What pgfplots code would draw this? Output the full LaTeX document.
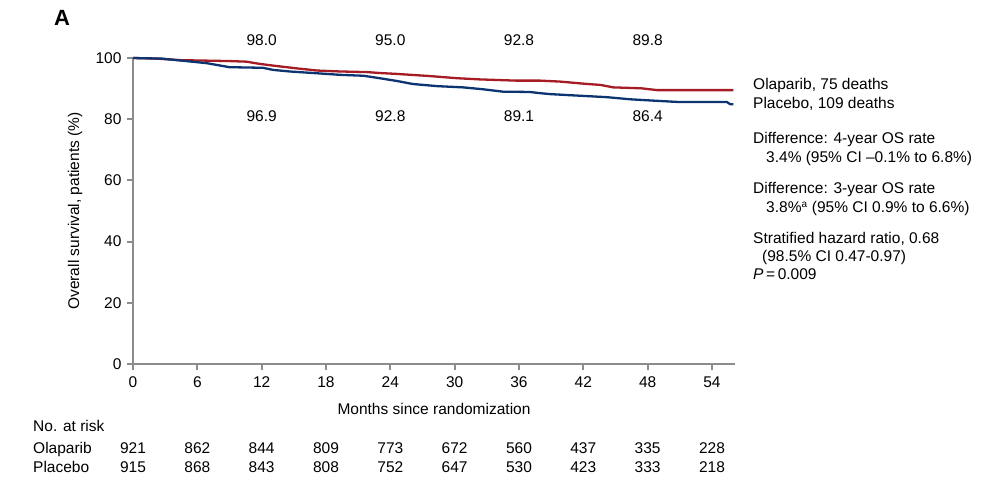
\documentclass[border=0pt]{standalone}
\usepackage{fontspec}
\setmainfont{Liberation Sans}
\usepackage{pgfplots}
\pgfplotsset{compat=1.18}
\definecolor{olared}{RGB}{166,28,36}
\definecolor{plablue}{RGB}{12,52,112}
\definecolor{axgray}{RGB}{140,140,140}
\newcommand{\fs}{\fontsize{15.5}{18}\selectfont}
\begin{document}
\begin{tikzpicture}[font=\fs]
\useasboundingbox (-133pt,-135pt) rectangle (870pt,364pt);
\begin{axis}[
  scale only axis, width=602pt, height=306pt,
  xmin=0, xmax=56.15, ymin=0, ymax=100,
  axis x line=bottom, axis y line=left,
  axis line style={draw=axgray, line width=2.2pt, -},
  xtick={0,6,...,54}, ytick={0,20,...,100},
  tick align=outside, major tick length=6pt,
  every tick/.style={draw=axgray, line width=2pt},
  xtick pos=bottom, ytick pos=left,
  /pgf/number format/assume math mode=true,
  ticklabel style={font=\fs},
  xticklabel style={yshift=-3pt},
  yticklabel style={xshift=-2pt},
  xlabel={Months since randomization},
  ylabel={Overall survival, patients (\%)},
  xlabel style={at={(axis description cs:0.5,0)}, anchor=base, yshift=-50.6pt},
  ylabel style={at={(axis description cs:0,0.5)}, anchor=center, rotate=0, yshift=58pt},
  clip=false,
]
\addplot[olared, line width=2.3pt] coordinates {
(0,100) (1,99.9) (2.2,99.8) (4.4,99.3) (9.0,99.0) (10.6,98.8) (11.6,98.2)
(12.0,98.0) (13.1,97.5) (15.3,96.6) (17.2,95.9) (19.3,95.6) (21.8,95.4)
(23.0,95.1) (24.6,94.8) (27.7,94.1) (30.2,93.4) (32.4,93.0) (35.8,92.6)
(38.0,92.6) (39.8,92.3) (42.4,91.5) (43.6,91.2) (44.8,90.4) (47.4,90.1)
(48.9,89.5) (56.0,89.5)
};
\addplot[plablue, line width=2.3pt] coordinates {
(0,100) (2.7,99.8) (6.9,98.3) (9.0,97.0) (12.1,96.8) (13.1,96.1) (14.6,95.6)
(17.2,95.0) (19.3,94.5) (21.5,94.2) (23.0,93.4) (24.6,92.5) (26.1,91.5)
(28.4,90.8) (30.8,90.4) (32.6,89.8) (34.5,89.0) (37.0,88.9) (38.0,88.5)
(38.9,88.2) (41.0,87.8) (44.2,87.2) (46.4,86.5) (48.9,86.0) (51.0,85.6)
(55.4,85.6) (55.7,84.9) (56.0,84.9)
};
% rates
\node at (axis cs:12,105.9) {98.0};
\node at (axis cs:24,105.9) {95.0};
\node at (axis cs:36,105.9) {92.8};
\node at (axis cs:48,105.9) {89.8};
\node at (axis cs:12,81.0) {96.9};
\node at (axis cs:24,81.0) {92.8};
\node at (axis cs:36,81.0) {89.1};
\node at (axis cs:48,81.0) {86.4};
% at risk
\newcommand{\riskO}[2]{\node[anchor=base, yshift=-89.6pt] at (axis cs:#1,0) {#2};}
\newcommand{\riskP}[2]{\node[anchor=base, yshift=-108.6pt] at (axis cs:#1,0) {#2};}
\riskO{0}{921}\riskO{6}{862}\riskO{12}{844}\riskO{18}{809}\riskO{24}{773}
\riskO{30}{672}\riskO{36}{560}\riskO{42}{437}\riskO{48}{335}\riskO{54}{228}
\riskP{0}{915}\riskP{6}{868}\riskP{12}{843}\riskP{18}{808}\riskP{24}{752}
\riskP{30}{647}\riskP{36}{530}\riskP{42}{423}\riskP{48}{333}\riskP{54}{218}
\end{axis}
% panel letter
\node[anchor=base west, inner sep=0pt, font=\fontsize{22}{24}\selectfont\bfseries] at (-79pt,338pt) {A};
% at-risk names
\node[anchor=base west, inner sep=0pt] at (-100pt,-67.6pt) {No. at risk};
\node[anchor=base west, inner sep=0pt] at (-100pt,-89.6pt) {Olaparib};
\node[anchor=base west, inner sep=0pt] at (-100pt,-108.6pt) {Placebo};
% right annotations
\node[anchor=base west, inner sep=0pt] at (620pt,274.4pt) {Olaparib, 75 deaths};
\node[anchor=base west, inner sep=0pt] at (620pt,255.4pt) {Placebo, 109 deaths};
\node[anchor=base west, inner sep=0pt] at (620pt,220.4pt) {Difference: 4-year OS rate};
\node[anchor=base west, inner sep=0pt] at (633pt,201.4pt) {3.4\% (95\% CI –0.1\% to 6.8\%)};
\node[anchor=base west, inner sep=0pt] at (620pt,170.4pt) {Difference: 3-year OS rate};
\node[anchor=base west, inner sep=0pt] at (633pt,151.4pt) {3.8\%\textsuperscript{\fontsize{10}{12}\selectfont a} (95\% CI 0.9\% to 6.6\%)};
\node[anchor=base west, inner sep=0pt] at (620pt,120.4pt) {Stratified hazard ratio, 0.68};
\node[anchor=base west, inner sep=0pt] at (629pt,102.4pt) {(98.5\% CI 0.47-0.97)};
\node[anchor=base west, inner sep=0pt] at (620pt,84.4pt) {\textit{P}\,=\,0.009};
\end{tikzpicture}
\end{document}
